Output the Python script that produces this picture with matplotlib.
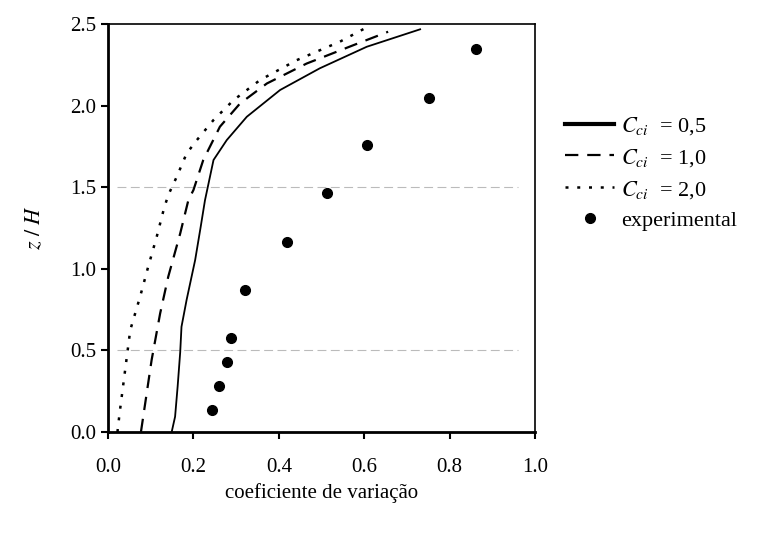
import matplotlib.pyplot as plt
import numpy as np

plt.rcParams['font.family'] = ['Liberation Serif', 'DejaVu Serif']
plt.rcParams['mathtext.fontset'] = 'stix'

# --- data ---
x_c05 = [0.149, 0.157, 0.163, 0.169, 0.172, 0.184, 0.204, 0.217, 0.227, 0.247,
         0.278, 0.325, 0.403, 0.496, 0.606, 0.731]
z_c05 = [0.0, 0.094, 0.28, 0.49, 0.645, 0.81, 1.054, 1.258, 1.42, 1.667,
         1.789, 1.932, 2.096, 2.229, 2.361, 2.468]

x_c10 = [0.077, 0.087, 0.102, 0.122, 0.141, 0.169, 0.188, 0.200, 0.223, 0.262,
         0.309, 0.372, 0.465, 0.575, 0.656]
z_c10 = [0.0, 0.176, 0.441, 0.727, 0.952, 1.217, 1.42, 1.483, 1.667, 1.871,
         2.013, 2.136, 2.258, 2.371, 2.453]

x_c20 = [0.022, 0.027, 0.040, 0.052, 0.075, 0.094, 0.114, 0.131, 0.141, 0.161,
         0.184, 0.208, 0.247, 0.294, 0.356, 0.442, 0.543, 0.606]
z_c20 = [0.0, 0.115, 0.38, 0.625, 0.829, 1.013, 1.197, 1.37, 1.452, 1.565,
         1.707, 1.789, 1.912, 2.034, 2.157, 2.279, 2.392, 2.48]

x_exp = [0.244, 0.261, 0.278, 0.287, 0.321, 0.418, 0.512, 0.606, 0.752, 0.862]
z_exp = [0.135, 0.282, 0.429, 0.576, 0.870, 1.162, 1.462, 1.759, 2.05, 2.347]

x_ticks = [0.0, 0.2, 0.4, 0.6, 0.8, 1.0]
y_ticks = [0.0, 0.5, 1.0, 1.5, 2.0, 2.5]

fig = plt.figure(figsize=(7.61, 5.35), dpi=100)
ax = fig.add_axes([0.142, 0.1925, 0.561, 0.7625])

# faint scanned gridlines
for yy in (0.5, 1.5):
    ax.axhline(yy, xmin=0.02, xmax=0.96, color='#bbbbbb', lw=0.8,
               linestyle=(0, (8, 4)), zorder=0)

ax.plot(x_c05, z_c05, color='black', lw=1.3, label=r'$C_{ci}$  = 0,5')
ax.plot(x_c10, z_c10, color='black', lw=1.6, linestyle=(0, (6, 4)),
        label=r'$C_{ci}$  = 1,0')
ax.plot(x_c20, z_c20, color='black', lw=1.8, linestyle=(0, (1.2, 3.5)),
        label=r'$C_{ci}$  = 2,0')
ax.plot(x_exp, z_exp, 'o', color='black', markersize=7, linestyle='none',
        label='experimental')

ax.set_xlim(0, 1.0)
ax.set_ylim(0, 2.5)
ax.set_xticks(x_ticks)
ax.set_yticks(y_ticks)
ax.set_xticklabels([f"{v:.1f}" for v in x_ticks])
ax.set_yticklabels([f"{v:.1f}" for v in y_ticks])
ax.tick_params(labelsize=15, width=1.5, length=5, direction='out')
ax.tick_params(axis='x', pad=14)

for side in ('left', 'bottom'):
    ax.spines[side].set_linewidth(2)
for side in ('top', 'right'):
    ax.spines[side].set_linewidth(1.2)

ax.set_xlabel('coeficiente de variação', fontsize=15, labelpad=4)
ax.set_ylabel(r'$z\ /\ H$', fontsize=16, labelpad=18)

leg = ax.legend(loc='center left', bbox_to_anchor=(1.05, 0.635), frameon=False,
                fontsize=16, handlelength=2.2, handletextpad=0.3,
                labelspacing=0.45, borderaxespad=0)
leg.get_lines()[0].set_linewidth(3)

fig.savefig('out.png', dpi=100)
